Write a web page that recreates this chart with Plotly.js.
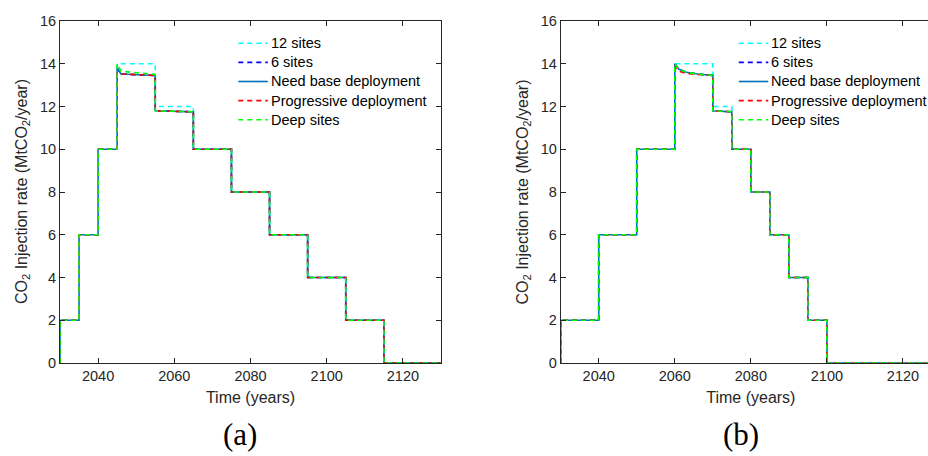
<!DOCTYPE html>
<html>
<head>
<meta charset="utf-8">
<script src="https://cdn.plot.ly/plotly-3.0.1.min.js"></script>
<style>
  html, body { margin: 0; padding: 0; background: #fff; overflow: hidden; }
  #chart { width: 950px; height: 456px; }
</style>
</head>
<body>
<div id="chart"></div>
<script>
// Series names and styles
const seriesNames = ['12 sites', '6 sites', 'Need base deployment', 'Progressive deployment', 'Deep sites'];
const seriesColors = ['#00FFFF', '#0000FF', '#0072BD', '#FF0000', '#00FF00'];
const seriesDash = ['5px,4px', '5px,4px', 'solid', '5px,4px', '5px,4px'];

// Panel (a): vertex years of the step profiles
const yearsA = [2030, 2030, 2035, 2035, 2040, 2040, 2045, 2045, 2046, 2050, 2055, 2055, 2065, 2065, 2075, 2075, 2085, 2085, 2095, 2095, 2105, 2105, 2115, 2115, 2130];
const twelveSitesA   = [0, 2, 2, 6, 6, 10, 10, 14, 14, 14, 14, 12, 12, 10, 10, 8, 8, 6, 6, 4, 4, 2, 2, 0, 0];
const sixSitesA      = [0, 2, 2, 6, 6, 10, 10, 13.8, 13.52, 13.49, 13.45, 11.8, 11.75, 10, 10, 8, 8, 6, 6, 4, 4, 2, 2, 0, 0];
const needBaseA      = [0, 2, 2, 6, 6, 10, 10, 13.8, 13.52, 13.49, 13.45, 11.8, 11.75, 10, 10, 8, 8, 6, 6, 4, 4, 2, 2, 0, 0];
const progressiveA   = [0, 2, 2, 6, 6, 10, 10, 13.55, 13.52, 13.49, 13.45, 11.8, 11.75, 10, 10, 8, 8, 6, 6, 4, 4, 2, 2, 0, 0];
const deepSitesA     = [0, 2, 2, 6, 6, 10, 10, 14, 13.65, 13.58, 13.5, 11.8, 11.75, 10, 10, 8, 8, 6, 6, 4, 4, 2, 2, 0, 0];

// Panel (b): vertex years of the step profiles
const yearsB = [2030, 2030, 2040, 2040, 2050, 2050, 2060, 2060, 2061, 2063, 2066, 2070, 2070, 2075, 2075, 2080, 2080, 2085, 2085, 2090, 2090, 2095, 2095, 2100, 2100, 2130];
const twelveSitesB   = [0, 2, 2, 6, 6, 10, 10, 14, 14, 14, 14, 14, 12, 12, 10, 10, 8, 8, 6, 6, 4, 4, 2, 2, 0, 0];
const sixSitesB      = [0, 2, 2, 6, 6, 10, 10, 14, 13.75, 13.6, 13.52, 13.45, 11.8, 11.75, 10, 10, 8, 8, 6, 6, 4, 4, 2, 2, 0, 0];
const needBaseB      = [0, 2, 2, 6, 6, 10, 10, 14, 13.75, 13.6, 13.52, 13.45, 11.8, 11.75, 10, 10, 8, 8, 6, 6, 4, 4, 2, 2, 0, 0];
const progressiveB   = [0, 2, 2, 6, 6, 10, 10, 14, 13.65, 13.55, 13.5, 13.45, 11.8, 11.75, 10, 10, 8, 8, 6, 6, 4, 4, 2, 2, 0, 0];
const deepSitesB     = [0, 2, 2, 6, 6, 10, 10, 14, 13.75, 13.6, 13.52, 13.45, 11.8, 11.75, 10, 10, 8, 8, 6, 6, 4, 4, 2, 2, 0, 0];

// Axis ticks and labels
const xTicks = [2040, 2060, 2080, 2100, 2120];
const xTickLabels = ['2040', '2060', '2080', '2100', '2120'];
const yTicks = [0, 2, 4, 6, 8, 10, 12, 14, 16];
const yTickLabels = ['0', '2', '4', '6', '8', '10', '12', '14', '16'];
const xTitle = 'Time (years)';
const yTitle = 'CO<sub>2</sub> Injection rate (MtCO<sub>2</sub>/year)';
const panelLabels = ['(a)', '(b)'];

const W = 950, H = 456;
const axisColor = '#262626';
const font = 'Liberation Sans, Arial, sans-serif';
const fs = 14.5;      // tick labels and legend
const titleFs = 16;   // axis titles

const valuesA = [twelveSitesA, sixSitesA, needBaseA, progressiveA, deepSitesA];
const valuesB = [twelveSitesB, sixSitesB, needBaseB, progressiveB, deepSitesB];

const traces = [];
[[yearsA, valuesA, 'x', 'y'], [yearsB, valuesB, 'x2', 'y2']].forEach(([yrs, vals, xa, ya]) => {
  vals.forEach((v, i) => {
    traces.push({
      x: yrs, y: v, xaxis: xa, yaxis: ya,
      type: 'scatter', mode: 'lines', name: seriesNames[i], showlegend: false,
      line: { color: seriesColors[i], dash: seriesDash[i], width: 1.6 },
      hoverinfo: 'skip'
    });
  });
});

function xAxis(domain, anchor) {
  return {
    domain: domain, anchor: anchor, range: [2030, 2130],
    tickmode: 'array', tickvals: xTicks, ticktext: xTickLabels,
    ticks: 'inside', ticklen: 5, tickcolor: axisColor, tickwidth: 1,
    showline: true, linecolor: axisColor, linewidth: 1, mirror: 'ticks',
    showgrid: false, zeroline: false,
    tickfont: { family: font, size: fs, color: axisColor },
    title: { text: xTitle, font: { family: font, size: titleFs, color: axisColor }, standoff: 8 }
  };
}
function yAxis(domain, anchor) {
  return {
    domain: domain, anchor: anchor, range: [0, 16],
    tickmode: 'array', tickvals: yTicks, ticktext: yTickLabels,
    ticks: 'inside', ticklen: 5, tickcolor: axisColor, tickwidth: 1,
    showline: true, linecolor: axisColor, linewidth: 1, mirror: 'ticks',
    showgrid: false, zeroline: false,
    tickfont: { family: font, size: fs, color: axisColor }
  };
}

const plotTop = 21, plotBottom = 363;
const yDom = [(H - plotBottom) / H, (H - plotTop) / H];

const shapes = [];
const annotations = [];

// Legend drawn as line samples plus labels in each panel
function addLegend(x0px) {
  seriesNames.forEach((name, i) => {
    const ypx = 43.3 + i * 19.1;
    shapes.push({
      type: 'line', xref: 'paper', yref: 'paper',
      x0: x0px / W, x1: (x0px + 29.5) / W, y0: 1 - ypx / H, y1: 1 - ypx / H,
      line: { color: seriesColors[i], dash: seriesDash[i], width: 1.6 }
    });
    annotations.push({
      text: name, xref: 'paper', yref: 'paper', x: (x0px + 31.5) / W, y: 1 - ypx / H,
      xanchor: 'left', yanchor: 'middle', showarrow: false, borderpad: 0,
      font: { family: font, size: fs, color: '#000' }
    });
  });
}
addLegend(238.3);
addLegend(738.8);

// Vertical y-axis titles, centred on each plot area
[22, 522.5].forEach(xpx => {
  annotations.push({
    text: yTitle, textangle: -90, xref: 'paper', yref: 'paper',
    x: xpx / W, y: 1 - ((plotTop + plotBottom) / 2) / H,
    xanchor: 'center', yanchor: 'middle', showarrow: false, borderpad: 0,
    font: { family: font, size: titleFs, color: axisColor }
  });
});

// Panel captions below each plot
[[panelLabels[0], 240], [panelLabels[1], 741]].forEach(([txt, xpx]) => {
  annotations.push({
    text: txt, x: xpx / W, y: 1 - 434 / H, xref: 'paper', yref: 'paper', showarrow: false,
    xanchor: 'center', yanchor: 'middle',
    font: { family: 'Liberation Serif, Times New Roman, serif', size: 31, color: '#000' }
  });
});

const layout = {
  width: W, height: H,
  margin: { l: 0, r: 0, t: 0, b: 0 },
  paper_bgcolor: '#fff', plot_bgcolor: '#fff',
  showlegend: false,
  xaxis: xAxis([60 / W, 441 / W], 'y'),
  yaxis: yAxis(yDom, 'x'),
  xaxis2: xAxis([560.7 / W, 941 / W], 'y2'),
  yaxis2: yAxis(yDom, 'x2'),
  shapes: shapes,
  annotations: annotations
};

Plotly.newPlot('chart', traces, layout, { staticPlot: true, displayModeBar: false });
</script>
</body>
</html>
